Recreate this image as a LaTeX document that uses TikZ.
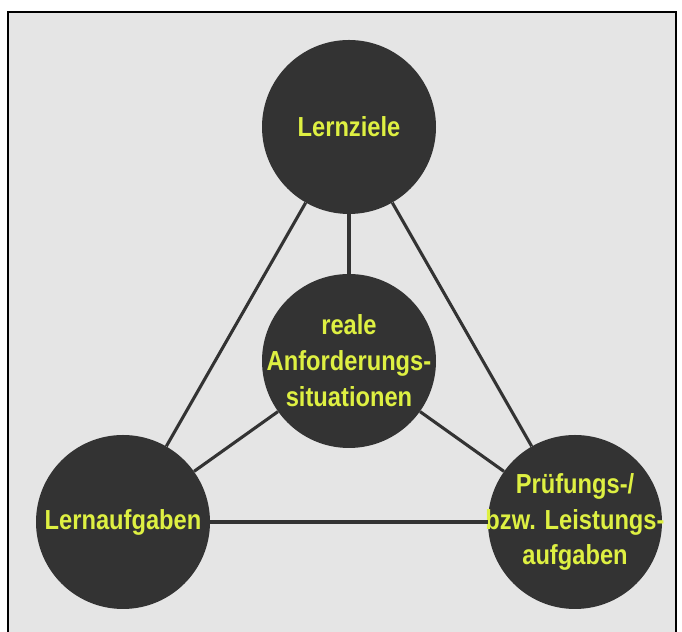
\documentclass[tikz,border=0pt]{standalone}
\usepackage{fontspec}
\setmainfont{Liberation Sans}[FakeStretch=0.86]
\definecolor{dunkel}{RGB}{51,51,51}
\definecolor{gelb}{RGB}{222,240,66}
\definecolor{hell}{RGB}{229,229,229}
\begin{document}
\begin{tikzpicture}[x=10mm, y=10mm,
  kreis/.style={circle, fill=dunkel, minimum size=43.5mm, inner sep=-20pt,
    text=gelb, align=center, font=\fontsize{19.6}{25.5}\selectfont\bfseries},
  linie/.style={draw=dunkel, line width=2.2pt}]

\useasboundingbox (0,0) rectangle (17.05,15.8);
\fill[hell] (0.2,0) rectangle (16.9,15.5);
\draw[line width=1.5pt] (0.2,0) -- (0.2,15.5) -- (16.9,15.5) -- (16.9,0);

\node[kreis] (ziele) at (8.725,12.625) {Lernziele};
\node[kreis] (real) at (8.725,6.775) {reale\\Anforderungs-\\situationen};
\node[kreis] (lern) at (3.075,2.75) {Lernaufgaben};
\node[kreis] (pruef) at (14.375,2.75) {Prüfungs-/\\bzw. Leistungs-\\aufgaben};

\draw[linie] (ziele) -- (real);
\draw[linie] (ziele) -- (lern);
\draw[linie] (ziele) -- (pruef);
\draw[linie] (real) -- (lern);
\draw[linie] (real) -- (pruef);
\draw[linie] (lern) -- (pruef);
\end{tikzpicture}
\end{document}
